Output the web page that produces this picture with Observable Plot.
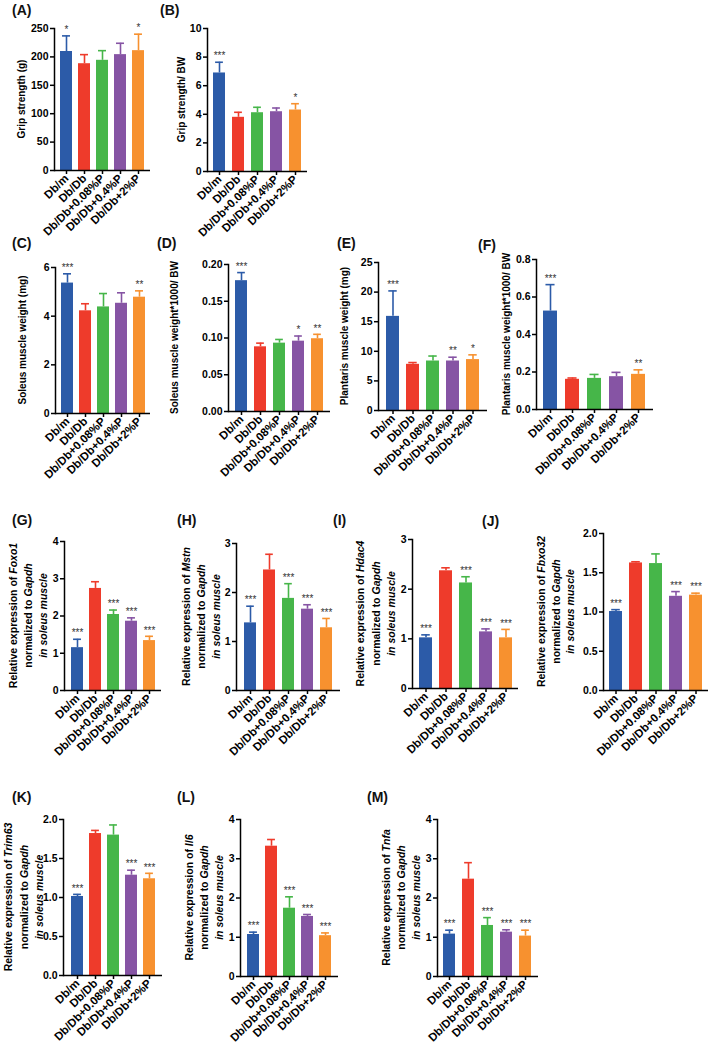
<!DOCTYPE html>
<html><head><meta charset="utf-8">
<script src="https://cdn.jsdelivr.net/npm/d3@7"></script>
<script src="https://cdn.jsdelivr.net/npm/@observablehq/plot@0.6"></script>
<style>
body{margin:0;background:#fff;}
#fig{position:relative;width:709px;height:1053px;overflow:hidden;background:#fff;font-family:"Liberation Sans",Arial,Helvetica,sans-serif;}
.plab{position:absolute;font-weight:bold;font-size:14px;line-height:14px;color:#111;}
#fig svg{position:absolute;overflow:visible;}
</style></head><body><div id="fig"></div>
<script>
// ---- data ----
const categories = ["Db/m", "Db/Db", "Db/Db+0.08%P", "Db/Db+0.4%P", "Db/Db+2%P"];
const colors = ["#2c5ba8", "#ee3b2b", "#46b649", "#8654a4", "#f7912f"];

const gripMean = [209.5, 188, 194, 204, 211];
const gripErr = [27.5, 16, 17, 20, 29];
const gripStars = ["*", "", "", "", "*"];

const gripBwMean = [6.89, 3.79, 4.11, 4.18, 4.30];
const gripBwErr = [0.75, 0.35, 0.38, 0.26, 0.44];
const gripBwStars = ["***", "", "", "", "*"];

const soleusMean = [5.36, 4.22, 4.38, 4.53, 4.78];
const soleusErr = [0.38, 0.29, 0.55, 0.43, 0.26];
const soleusStars = ["***", "", "", "", "**"];

const soleusBwMean = [0.178, 0.088, 0.093, 0.0957, 0.099];
const soleusBwErr = [0.011, 0.005, 0.005, 0.007, 0.006];
const soleusBwStars = ["***", "", "", "*", "**"];

const plantarisMean = [15.9, 7.8, 8.36, 8.36, 8.6];
const plantarisErr = [4.3, 0.3, 0.84, 0.64, 0.8];
const plantarisStars = ["***", "", "", "**", "*"];

const plantarisBwMean = [0.525, 0.161, 0.166, 0.175, 0.1875];
const plantarisBwErr = [0.141, 0.007, 0.021, 0.023, 0.024];
const plantarisBwStars = ["***", "", "", "", "**"];

const foxo1Mean = [1.15, 2.74, 2.04, 1.86, 1.34];
const foxo1Err = [0.225, 0.18, 0.12, 0.09, 0.115];
const foxo1Stars = ["***", "", "***", "***", "***"];

const mstnMean = [1.38, 2.46, 1.88, 1.66, 1.28];
const mstnErr = [0.34, 0.32, 0.30, 0.09, 0.19];
const mstnStars = ["***", "", "***", "***", "***"];

const hdac4Mean = [1.02, 2.37, 2.125, 1.14, 1.02];
const hdac4Err = [0.06, 0.06, 0.125, 0.06, 0.17];
const hdac4Stars = ["***", "", "***", "***", "***"];

const fbxo32Mean = [1.006, 1.625, 1.617, 1.2, 1.215];
const fbxo32Err = [0.024, 0.015, 0.123, 0.06, 0.025];
const fbxo32Stars = ["***", "", "", "***", "***"];

const trim63Mean = [1.013, 1.82, 1.80, 1.286, 1.24];
const trim63Err = [0.027, 0.04, 0.13, 0.064, 0.07];
const trim63Stars = ["***", "", "", "***", "***"];

const il6Mean = [1.07, 3.32, 1.74, 1.53, 1.04];
const il6Err = [0.06, 0.17, 0.29, 0.05, 0.07];
const il6Stars = ["***", "", "***", "***", "***"];

const tnfaMean = [1.08, 2.48, 1.30, 1.13, 1.03];
const tnfaErr = [0.10, 0.42, 0.20, 0.06, 0.15];
const tnfaStars = ["***", "", "***", "***", "***"];

// tick labels
const ticks250 = [0, 50, 100, 150, 200, 250];
const ticks10 = [0, 2, 4, 6, 8, 10];
const ticks6 = [0, 2, 4, 6];
const ticks020 = [0, 0.05, 0.10, 0.15, 0.20];
const ticks25 = [0, 5, 10, 15, 20, 25];
const ticks08 = [0, 0.2, 0.4, 0.6, 0.8];
const ticks4 = [0, 1, 2, 3, 4];
const ticks3 = [0, 1, 2, 3];
const ticks2 = [0, 0.5, 1.0, 1.5, 2.0];

const f0 = d3.format("d"), f1 = d3.format(".1f"), f2 = d3.format(".2f");

function geneLabel(g) {
  return [[["Relative expression of ", false], [g, true]], [["normalized to ", false], ["Gapdh", true]], [["in soleus muscle", true]]];
}

// ---- layout (axis x, top px, zero px, axis end x) ----
const panels = [
  {id: "A", mean: gripMean, err: gripErr, stars: gripStars, domain: [0, 250], ticks: ticks250, fmt: f0,
   ax: 54, top: 28, bot: 170, end: 150, lx: 12, ly: 10, ylab: [[["Grip strength (g)", false]]], yoff: [-33], yfs: 10},
  {id: "B", mean: gripBwMean, err: gripBwErr, stars: gripBwStars, domain: [0, 10], ticks: ticks10, fmt: f0,
   ax: 207, top: 28, bot: 171, end: 307, lx: 160, ly: 10, ylab: [[["Grip strength/ BW", false]]], yoff: [-26], yfs: 10},
  {id: "C", mean: soleusMean, err: soleusErr, stars: soleusStars, domain: [0, 6], ticks: ticks6, fmt: f0,
   ax: 55, top: 267, bot: 413, end: 150, lx: 12, ly: 243, ylab: [[["Soleus muscle weight (mg)", false]]], yoff: [-33], yfs: 10},
  {id: "D", mean: soleusBwMean, err: soleusBwErr, stars: soleusBwStars, domain: [0, 0.2], ticks: ticks020, fmt: f2,
   ax: 228, top: 264, bot: 411, end: 330, lx: 157, ly: 243, ylab: [[["Soleus muscle weight*1000/ BW", false]]], yoff: [-54], yfs: 10},
  {id: "E", mean: plantarisMean, err: plantarisErr, stars: plantarisStars, domain: [0, 25], ticks: ticks25, fmt: f0,
   ax: 378, top: 262, bot: 410, end: 487, lx: 337, ly: 243, ylab: [[["Plantaris muscle weight (mg)", false]]], yoff: [-34], yfs: 10},
  {id: "F", mean: plantarisBwMean, err: plantarisBwErr, stars: plantarisBwStars, domain: [0, 0.8], ticks: ticks08, fmt: f1,
   ax: 536, top: 259, bot: 409, end: 653, lx: 478, ly: 245, ylab: [[["Plantaris muscle weight*1000/ BW", false]]], yoff: [-30], yfs: 10},
  {id: "G", mean: foxo1Mean, err: foxo1Err, stars: foxo1Stars, domain: [0, 4], ticks: ticks4, fmt: f0,
   ax: 64, top: 541, bot: 690, end: 161, lx: 12, ly: 520, ylab: geneLabel("Foxo1"), yoff: [-51, -36, -21], yfs: 10.5},
  {id: "H", mean: mstnMean, err: mstnErr, stars: mstnStars, domain: [0, 3], ticks: ticks3, fmt: f0,
   ax: 236, top: 543, bot: 690, end: 340, lx: 177, ly: 520, ylab: geneLabel("Mstn"), yoff: [-50, -35, -20], yfs: 10.5},
  {id: "I", mean: hdac4Mean, err: hdac4Err, stars: hdac4Stars, domain: [0, 3], ticks: ticks3, fmt: f0,
   ax: 412, top: 539, bot: 688, end: 518, lx: 333, ly: 520, ylab: geneLabel("Hdac4"), yoff: [-52, -36, -21], yfs: 10.5},
  {id: "J", mean: fbxo32Mean, err: fbxo32Err, stars: fbxo32Stars, domain: [0, 2], ticks: ticks2, fmt: f1,
   ax: 603, top: 533, bot: 690, end: 708, lx: 482, ly: 521, ylab: geneLabel("Fbxo32"), yoff: [-62, -47, -33], yfs: 10.5},
  {id: "K", mean: trim63Mean, err: trim63Err, stars: trim63Stars, domain: [0, 2], ticks: ticks2, fmt: f1,
   ax: 63, top: 819, bot: 975, end: 162, lx: 12, ly: 797, ylab: geneLabel("Trim63"), yoff: [-55, -39, -24], yfs: 10.5},
  {id: "L", mean: il6Mean, err: il6Err, stars: il6Stars, domain: [0, 4], ticks: ticks4, fmt: f0,
   ax: 240, top: 819, bot: 976, end: 338, lx: 177, ly: 797, ylab: geneLabel("Il6"), yoff: [-51, -36, -21], yfs: 10.5},
  {id: "M", mean: tnfaMean, err: tnfaErr, stars: tnfaStars, domain: [0, 4], ticks: ticks4, fmt: f0,
   ax: 437, top: 819, bot: 976, end: 538, lx: 367, ly: 797, ylab: geneLabel("Tnfa"), yoff: [-51, -36, -21], yfs: 10.5}
];

const fig = document.getElementById("fig");
const FONT = '"Liberation Sans", Arial, Helvetica, sans-serif';
const PI = 0.35, PO = 0.3;

for (const p of panels) {
  const ML = 75, MR = 6, MT = 20, MB = 90;
  const W = p.end - p.ax, H = p.bot - p.top;
  const rows = categories.map((c, i) => ({c, m: p.mean[i], top: p.mean[i] + p.err[i], s: p.stars[i], col: colors[i]}));
  const step = W / (5 - PI + 2 * PO);
  const bw = step * (1 - PI);
  const capInset = bw * 0.17;
  const svg = Plot.plot({
    width: ML + W + MR, height: MT + H + MB,
    marginLeft: ML, marginRight: MR, marginTop: MT, marginBottom: MB,
    style: {fontFamily: FONT, fontSize: "10.5px", fontWeight: "bold", color: "#000", background: "transparent", overflow: "visible"},
    x: {domain: categories, paddingInner: PI, paddingOuter: PO, label: null},
    y: {domain: p.domain, label: null},
    color: {type: "identity"},
    marks: [
      Plot.barY(rows, {x: "c", y: "m", fill: "col"}),
      Plot.ruleX(rows, {x: "c", y1: "m", y2: "top", stroke: "col", strokeWidth: 1.6}),
      Plot.tickY(rows, {x: "c", y: "top", stroke: "col", strokeWidth: 1.6, insetLeft: capInset, insetRight: capInset}),
      Plot.text(rows, {x: "c", y: "top", text: "s", dy: -6, fontSize: 10, fontWeight: "normal", fill: "#333"}),
      Plot.axisY({ticks: p.ticks, tickFormat: p.fmt, tickSize: 4, tickPadding: 2, strokeWidth: 1.5, fontSize: 10.5, label: null}),
      Plot.axisX({tickRotate: -45, tickSize: 4, tickPadding: 2, strokeWidth: 1.5, fontSize: 11.5, label: null}),
      Plot.ruleY([0], {strokeWidth: 1.5}),
      Plot.frame({anchor: "left", strokeWidth: 1.5})
    ]
  });
  svg.style.left = (p.ax - ML) + "px";
  svg.style.top = (p.top - MT) + "px";
  const s = d3.select(svg);
  p.ylab.forEach((line, i) => {
    const t = s.append("text")
      .attr("transform", `translate(${ML + p.yoff[i]},${MT + H / 2}) rotate(-90)`)
      .attr("text-anchor", "middle")
      .attr("dominant-baseline", "central")
      .attr("font-size", p.yfs)
      .attr("font-weight", "bold")
      .attr("font-family", FONT)
      .attr("fill", "#000");
    for (const [str, it] of line) {
      t.append("tspan").attr("font-style", it ? "italic" : "normal").text(str);
    }
  });
  fig.appendChild(svg);
  const lab = document.createElement("div");
  lab.className = "plab";
  lab.textContent = "(" + p.id + ")";
  lab.style.left = p.lx + "px";
  lab.style.top = (p.ly - 7) + "px";
  fig.appendChild(lab);
}
</script></body></html>
